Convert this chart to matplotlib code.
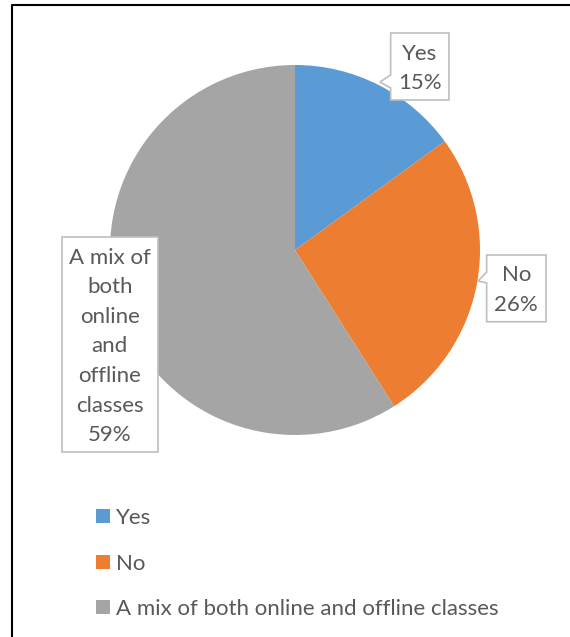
import numpy as np
import matplotlib
matplotlib.use('Agg')
import matplotlib.pyplot as plt
from matplotlib.patches import Polygon
from matplotlib.lines import Line2D

labels = ['Yes', 'No', 'A mix of both online and offline classes']
callout_names = ['Yes', 'No', 'A mix of\nboth\nonline\nand\noffline\nclasses']
shares = [15, 26, 59]
colors = ['#5B9BD5', '#ED7D31', '#A5A5A5']

TEXT = '#595959'
W, H, DPI = 570, 637, 100
CX, CY, R = 295, 250, 185   # pie centre / radius in pixels (from top-left)

# callout boxes in pie units (radius = 1): x0, x1, top, bottom, notch (lo, hi, tip) or None
callouts = [
    (0.517, 0.832, 1.173, 0.811, (0.876, 0.946, (0.459, 0.908))),
    (1.036, 1.357, -0.027, -0.388, (-0.178, -0.119, (0.989, -0.168))),
    (-1.261, -0.741, 0.070, -1.092, None),
]

plt.rcParams['font.family'] = ['Lato', 'DejaVu Sans']

fig = plt.figure(figsize=(W / DPI, H / DPI), dpi=DPI)
ax = fig.add_axes([0, 0, 1, 1])

wedges, _ = ax.pie(shares, colors=colors, startangle=90, counterclock=False,
                   radius=1, wedgeprops=dict(linewidth=0))
ax.set_xlim(-CX / R, (W - CX) / R)
ax.set_ylim(-(H - CY) / R, CY / R)
ax.set_aspect('equal')
ax.axis('off')

# data labels in boxed callouts
for name, pct, (x0, x1, top, bot, notch) in zip(callout_names, shares, callouts):
    verts = [(x0, top), (x1, top), (x1, bot), (x0, bot)]
    if notch is not None:
        lo, hi, tip = notch
        verts += [(x0, lo), tip, (x0, hi)]
    ax.add_patch(Polygon(verts, closed=True, facecolor='white',
                         edgecolor='#BFBFBF', linewidth=1.2, zorder=3))
    ax.text((x0 + x1) / 2, (top + bot) / 2 - 0.01, f'{name}\n{pct}%',
            ha='center', va='center', multialignment='center',
            fontsize=16, color=TEXT, linespacing=1.6, zorder=4)

leg = ax.legend(wedges, labels, loc='upper left',
                bbox_to_anchor=(96 / W, 1 - 508 / H), bbox_transform=fig.transFigure,
                frameon=False, fontsize=16, labelcolor=TEXT,
                handlelength=0.62, handleheight=0.62, handletextpad=0.3,
                labelspacing=1.15, borderpad=0, borderaxespad=0)

# chart area border (cut off at right and bottom)
fig.add_artist(Line2D([11.5 / W, 11.5 / W, 1], [0, 1 - 4.5 / H, 1 - 4.5 / H],
                      transform=fig.transFigure, color='black', linewidth=1.5))

fig.savefig('out.png', dpi=DPI)
